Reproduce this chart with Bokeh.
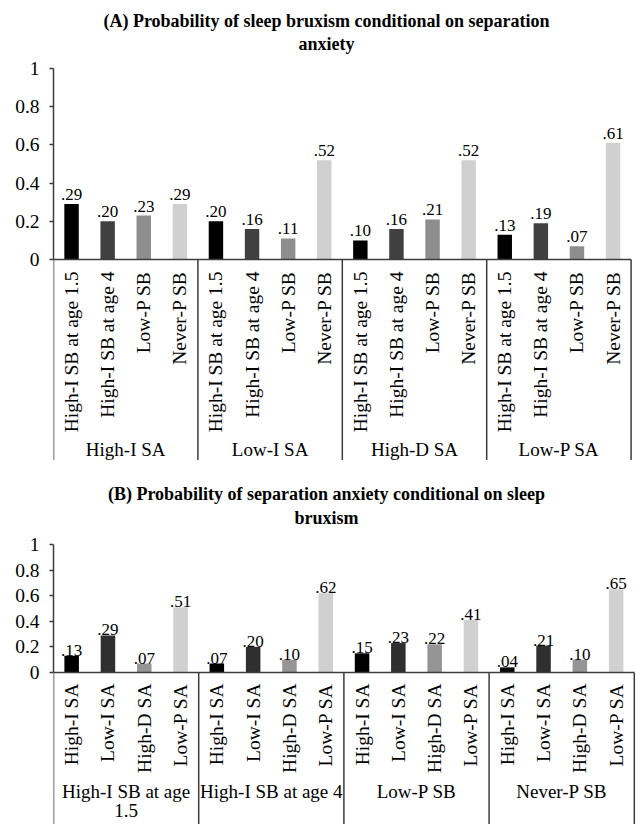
import numpy as np
from bokeh.plotting import figure
from bokeh.models import ColumnDataSource, Range1d, FixedTicker
from bokeh.layouts import column
from bokeh.embed import file_html
from bokeh.resources import INLINE
from bokeh.core.properties import value

# ---------------- data ----------------
title_a = ["(A) Probability of sleep bruxism conditional on separation", "anxiety"]
groups_a = ["High-I SA", "Low-I SA", "High-D SA", "Low-P SA"]
bars_a = ["High-I SB at age 1.5", "High-I SB at age 4", "Low-P SB", "Never-P SB"]
a_high_i_sa = [0.29, 0.20, 0.23, 0.29]
a_low_i_sa = [0.20, 0.16, 0.11, 0.52]
a_high_d_sa = [0.10, 0.16, 0.21, 0.52]
a_low_p_sa = [0.13, 0.19, 0.07, 0.61]

title_b = ["(B) Probability of separation anxiety conditional on sleep", "bruxism"]
groups_b = ["High-I SB at age\n1.5", "High-I SB at age 4", "Low-P SB", "Never-P SB"]
bars_b = ["High-I SA", "Low-I SA", "High-D SA", "Low-P SA"]
b_high_i_sb_15 = [0.13, 0.29, 0.07, 0.51]
b_high_i_sb_4 = [0.07, 0.20, 0.10, 0.62]
b_low_p_sb = [0.15, 0.23, 0.22, 0.41]
b_never_p_sb = [0.04, 0.21, 0.10, 0.65]

y_ticks = [0, 0.2, 0.4, 0.6, 0.8, 1]
y_tick_labels = ["0", "0.2", "0.4", "0.6", "0.8", "1"]

colors_a = ["#000000", "#404040", "#8e8e8e", "#d0d0d0"]
colors_b = ["#000000", "#2f2f2f", "#959595", "#d0d0d0"]

FONT = "Liberation Serif"
LINE = "#3c3c3c"
W = 638
LEFT = 53


def fmt(v):
    return ("%.2f" % v).lstrip("0")


def panel(title_lines, groups, subcats, series, colors, g):
    ppu = g["ppu"]
    z = g["zero"]
    h = g["h"]
    unit = g["unit"]

    def ty(fy):
        return (z - fy) / ppu

    def tx(fx):
        return (fx - LEFT) / unit

    n_sub = len(subcats)
    n = len(groups) * n_sub
    p = figure(width=W, height=h, x_range=Range1d(0, tx(W)),
               y_range=Range1d(ty(h), ty(0)), output_backend="svg",
               toolbar_location=None, tools="", x_axis_location=None,
               min_border_left=LEFT, min_border_right=0, min_border_top=0,
               min_border_bottom=0)
    p.outline_line_color = None
    p.xgrid.visible = False
    p.ygrid.visible = False
    p.background_fill_color = "white"
    p.border_fill_color = "white"

    xs, tops, cols, labs, cats = [], [], [], [], []
    for gi, vals in enumerate(series):
        for i, v in enumerate(vals):
            xs.append(gi * n_sub + i + 0.5)
            tops.append(v)
            cols.append(colors[i])
            labs.append(fmt(v))
            cats.append(subcats[i])
    src = ColumnDataSource(dict(x=xs, top=tops, color=cols, lab=labs, cat=cats))
    p.vbar(x="x", top="top", bottom=0, width=0.4, fill_color="color",
           line_color=None, source=src)
    p.text(x="x", y="top", text="lab", source=src, text_align="center",
           text_baseline="bottom", y_offset=g["lab_off"],
           text_font=value(FONT), text_font_size="17px", text_color="black")
    # rotated category labels
    p.text(x="x", y=ty(g["cat"]), text="cat", source=src, angle=np.pi / 2,
           text_align="right", text_baseline="middle",
           text_font=value(FONT), text_font_size="19.5px", text_color="black")
    # group labels
    gx, gy, gt = [], [], []
    for gi, name in enumerate(groups):
        for li, line in enumerate(name.split("\n")):
            gx.append(gi * n_sub + n_sub / 2)
            gy.append(ty(g["grp"] + li * g["grp_lh"]))
            gt.append(line)
    p.text(x=gx, y=gy, text=gt, text_align="center", text_baseline="middle",
           text_font=value(FONT), text_font_size="19px", text_color="black")
    # axis lines: baseline and group separators
    p.segment(x0=[0], y0=[0], x1=[n], y1=[0], line_color=LINE, line_width=1.5)
    sep = [k * n_sub for k in range(len(groups) + 1)]
    p.segment(x0=sep, y0=[0] * len(sep), x1=sep, y1=[ty(h)] * len(sep),
              line_color=LINE, line_width=1.5)
    # title
    p.text(x=[tx(g["title_x"])] * len(title_lines), y=[ty(v) for v in g["title"]],
           text=title_lines, text_align="center", text_baseline="middle",
           text_font=value(FONT), text_font_size="18px",
           text_font_style="bold", text_color="black")
    # y axis
    ax = p.yaxis[0]
    ax.ticker = FixedTicker(ticks=y_ticks)
    ax.major_label_overrides = {t: l for t, l in zip(y_ticks, y_tick_labels)}
    ax.bounds = (0, 1)
    ax.axis_line_color = LINE
    ax.axis_line_width = 1.5
    ax.major_tick_line_color = LINE
    ax.major_tick_line_width = 1.5
    ax.major_tick_out = 4
    ax.major_tick_in = 0
    ax.minor_tick_line_color = None
    ax.major_label_standoff = 10
    ax.major_label_text_font = FONT
    ax.major_label_text_font_size = "19.5px"
    ax.major_label_text_color = "black"
    return p


geo_a = dict(h=460, zero=259, ppu=191, unit=36.1, cat=271, grp=449, grp_lh=21,
             title=[20, 43], title_x=326, lab_off=-4)
geo_b = dict(h=364, zero=212, ppu=128, unit=36.3, cat=223, grp=331, grp_lh=19,
             title=[33, 57], title_x=326, lab_off=0)

pa = panel(title_a, groups_a, bars_a,
           [a_high_i_sa, a_low_i_sa, a_high_d_sa, a_low_p_sa], colors_a, geo_a)
pb = panel(title_b, groups_b, bars_b,
           [b_high_i_sb_15, b_high_i_sb_4, b_low_p_sb, b_never_p_sb], colors_b, geo_b)

layout = column(pa, pb, spacing=0)
open("out.html", "w").write(file_html(layout, INLINE))
